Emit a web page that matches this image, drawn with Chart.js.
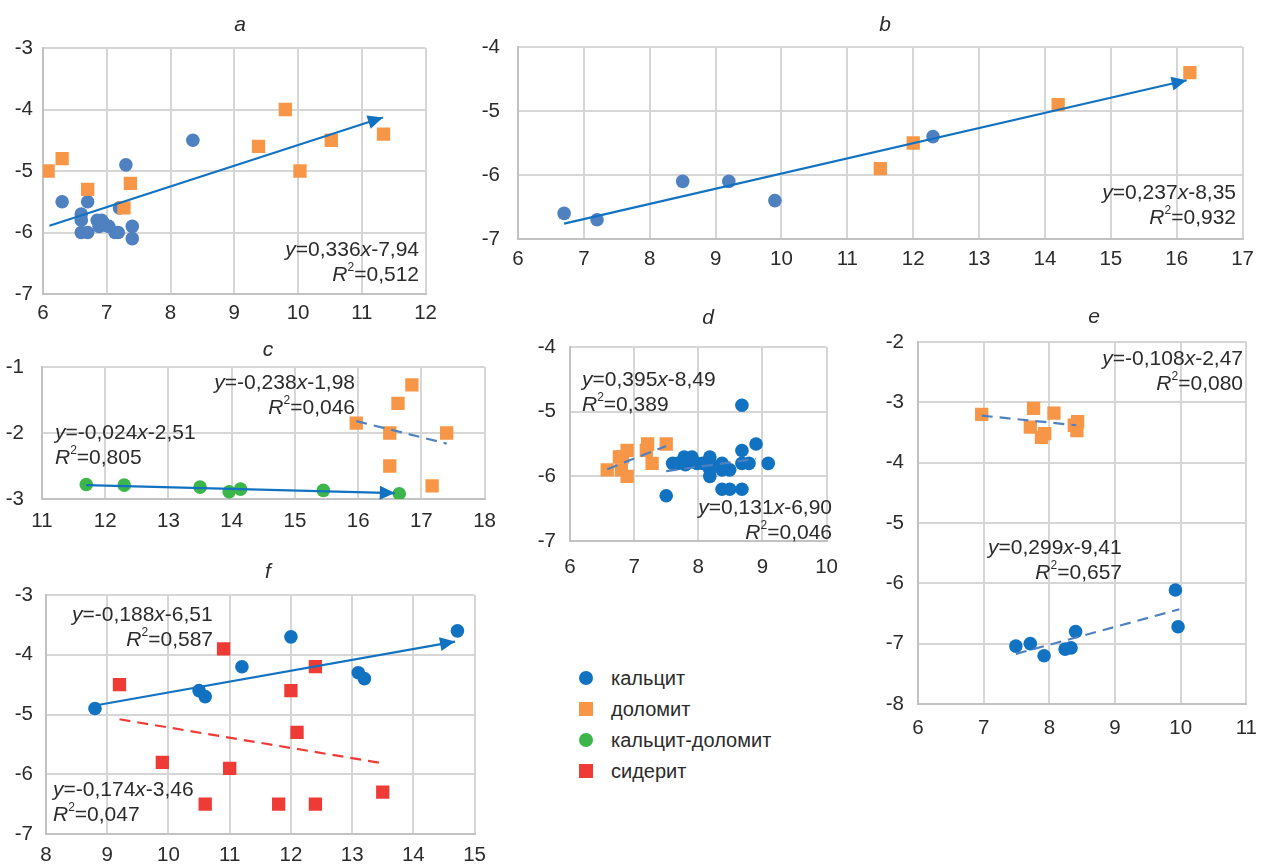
<!DOCTYPE html>
<html>
<head>
<meta charset="utf-8">
<title>Scatter panels a-f</title>
<script src="https://cdn.jsdelivr.net/npm/chart.js@4.4.1/dist/chart.umd.min.js"></script>
<style>
    body { margin: 0; width: 1269px; height: 864px; overflow: hidden; background: #fff; position: relative; }
    canvas { position: absolute; }
    #legend { position: absolute; left: 578px; top: 663px; font-family: "Liberation Sans", Arial, sans-serif; font-size: 20px; color: #2b2b2b; }
    #legend .item { height: 31px; line-height: 31px; position: relative; padding-left: 33px; }
    #legend .mk { position: absolute; left: 1px; top: 8px; width: 14px; height: 14px; }
</style>
</head>
<body>
<canvas id="chartA"></canvas>
<canvas id="chartB"></canvas>
<canvas id="chartC"></canvas>
<canvas id="chartD"></canvas>
<canvas id="chartE"></canvas>
<canvas id="chartF"></canvas>
<div id="legend">
    <div class="item"><span class="mk" style="background:#1172C2;border-radius:50%"></span>кальцит</div>
    <div class="item"><span class="mk" style="background:#F79646"></span>доломит</div>
    <div class="item"><span class="mk" style="background:#3CB54A;border-radius:50%"></span>кальцит-доломит</div>
    <div class="item"><span class="mk" style="background:#EE3B36"></span>сидерит</div>
</div>
<script>
// ---- data: [x, y] pairs ----
// panel a
const aCalcite = [[6.3,-5.5],[6.6,-5.7],[6.6,-5.8],[6.6,-6.0],[6.7,-5.5],[6.7,-6.0],[6.85,-5.8],[6.92,-5.8],
                  [6.88,-5.9],[6.95,-5.85],[7.03,-5.9],[7.13,-6.0],[7.18,-6.0],[7.3,-4.9],[7.2,-5.6],[7.4,-5.9],[7.4,-6.1],[8.35,-4.5]];
const aDolomite = [[6.08,-5.0],[6.3,-4.8],[6.7,-5.3],[7.37,-5.2],[7.27,-5.6],[9.38,-4.6],[9.8,-4.0],[10.03,-5.0],[10.52,-4.5],[11.34,-4.4]];
const aTrend = [[6.1,-5.89],[11.33,-4.13]];
const aEq = ['y=0,336x-7,94', 'R²=0,512'];

// panel b
const bCalcite = [[6.7,-6.6],[7.2,-6.7],[8.5,-6.1],[9.2,-6.1],[9.9,-6.4],[12.3,-5.4]];
const bDolomite = [[11.5,-5.9],[12.0,-5.5],[14.2,-4.9],[16.2,-4.4]];
const bTrend = [[6.7,-6.76],[16.15,-4.52]];
const bEq = ['y=0,237x-8,35', 'R²=0,932'];

// panel c
const cMixed = [[11.7,-2.78],[12.3,-2.79],[13.5,-2.82],[13.96,-2.89],[14.14,-2.85],[15.45,-2.87],[16.65,-2.92]];
const cDolomite = [[15.97,-1.85],[16.5,-2.0],[16.5,-2.5],[16.63,-1.55],[16.85,-1.27],[17.17,-2.8],[17.4,-2.0]];
const cTrendMixed = [[11.7,-2.79],[16.58,-2.91]];
const cTrendDolomite = [[15.97,-1.82],[17.4,-2.16]];
const cEqDolomite = ['y=-0,238x-1,98', 'R²=0,046'];
const cEqMixed = ['y=-0,024x-2,51', 'R²=0,805'];

// panel d
const dDolomite = [[6.58,-5.9],[6.77,-5.7],[6.8,-5.9],[6.82,-5.7],[6.89,-5.6],[6.89,-6.0],[7.19,-5.6],[7.21,-5.5],[7.28,-5.8],[7.5,-5.5]];
const dCalcite = [[7.5,-6.3],[7.6,-5.8],[7.68,-5.8],[7.78,-5.7],[7.8,-5.82],[7.9,-5.7],[7.98,-5.8],[8.07,-5.8],[8.18,-5.7],[8.18,-5.8],
                  [8.18,-5.9],[8.18,-6.0],[8.37,-5.8],[8.37,-5.9],[8.49,-5.9],[8.37,-6.2],[8.49,-6.2],[8.68,-4.9],[8.68,-5.6],
                  [8.68,-5.8],[8.68,-6.2],[8.79,-5.8],[8.9,-5.5],[9.09,-5.8]];
const dTrendDolomite = [[6.58,-5.89],[7.5,-5.53]];
const dTrendCalcite = [[7.5,-5.92],[8.9,-5.73]];
const dEqDolomite = ['y=0,395x-8,49', 'R²=0,389'];
const dEqCalcite = ['y=0,131x-6,90', 'R²=0,046'];

// panel e
const eDolomite = [[6.97,-3.2],[7.71,-3.41],[7.76,-3.1],[7.88,-3.58],[7.93,-3.52],[8.07,-3.18],[8.38,-3.38],[8.43,-3.32],[8.42,-3.47]];
const eCalcite = [[7.49,-7.04],[7.71,-7.0],[7.92,-7.2],[8.24,-7.09],[8.33,-7.07],[8.4,-6.8],[9.92,-6.11],[9.96,-6.72]];
const eTrendDolomite = [[6.97,-3.22],[8.41,-3.38]];
const eTrendCalcite = [[7.49,-7.17],[9.98,-6.43]];
const eEqDolomite = ['y=-0,108x-2,47', 'R²=0,080'];
const eEqCalcite = ['y=0,299x-9,41', 'R²=0,657'];

// panel f
const fCalcite = [[8.8,-4.9],[10.5,-4.6],[10.6,-4.7],[11.2,-4.2],[12.0,-3.7],[13.1,-4.3],[13.2,-4.4],[14.72,-3.6]];
const fSiderite = [[9.2,-4.5],[9.9,-5.8],[10.6,-6.5],[10.9,-3.9],[11.0,-5.9],[11.8,-6.5],[12.0,-4.6],[12.1,-5.3],[12.4,-4.2],[12.4,-6.5],[13.5,-6.3]];
const fTrendCalcite = [[8.8,-4.85],[14.68,-3.78]];
const fTrendSiderite = [[9.2,-5.08],[13.52,-5.82]];
const fEqCalcite = ['y=-0,188x-6,51', 'R²=0,587'];
const fEqSiderite = ['y=-0,174x-3,46', 'R²=0,047'];

// axis ranges (ticks every 1)
const aXRange = [6, 12],  aYRange = [-7, -3];
const bXRange = [6, 17],  bYRange = [-7, -4];
const cXRange = [11, 18], cYRange = [-3, -1];
const dXRange = [6, 10],  dYRange = [-7, -4];
const eXRange = [6, 11],  eYRange = [-8, -2];
const fXRange = [8, 15],  fYRange = [-7, -3];

// ---- styling ----
const FONT = '"Liberation Sans", Arial, sans-serif';
const TEXT = '#2b2b2b';
const BLUE_SOFT = '#4F81C0';
const BLUE = '#1172C2';
const ORANGE = '#F79646';
const GREEN = '#3CB54A';
const RED = '#EE3B36';
const PAD_L = 42, PAD_T = 40, PAD_R = 12, PAD_B = 40;

const toXY = pts => pts.map(p => ({ x: p[0], y: p[1] }));

function circles(pts, color) {
    return { type: 'scatter', data: toXY(pts), pointStyle: 'circle', pointRadius: 6.8,
             backgroundColor: color, borderWidth: 0 };
}
function squares(pts, color) {
    return { type: 'scatter', data: toXY(pts), pointStyle: 'rect', pointRadius: 9.4,
             backgroundColor: color, borderWidth: 0 };
}
function trend(pts, color, dashed, arrow) {
    return { type: 'line', data: toXY(pts), showLine: true, pointRadius: 0, borderColor: color,
             borderWidth: 2.2, borderDash: dashed ? [11, 7] : [], fill: false, arrow: !!arrow, arrowColor: color };
}

// draw an equation line: y, x and R in italics, ² as a small raised 2
function drawEq(ctx, text, x, y, align) {
    const parts = [];
    for (const ch of text) {
        let f = '21px ' + FONT, dy = 0, t = ch;
        if (ch === '²') { t = '2'; f = '12px ' + FONT; dy = -7; }
        else if (ch === 'y' || ch === 'x' || ch === 'R') { f = 'italic 21px ' + FONT; }
        const last = parts[parts.length - 1];
        if (last && last.f === f && last.dy === dy) last.t += t;
        else parts.push({ t: t, f: f, dy: dy });
    }
    let total = 0;
    parts.forEach(p => { ctx.font = p.f; p.w = ctx.measureText(p.t).width; total += p.w; });
    let cx = align === 'right' ? x - total : x;
    ctx.textAlign = 'left';
    ctx.textBaseline = 'middle';
    ctx.fillStyle = TEXT;
    parts.forEach(p => { ctx.font = p.f; ctx.fillText(p.t, cx, y + p.dy); cx += p.w; });
}

// titles, equations and arrowheads
const panelDecor = {
    id: 'panelDecor',
    afterDatasetsDraw(chart) {
        const ctx = chart.ctx;
        const cfg = chart.options.plugins.panelDecor;
        const ox = cfg.box[0] - PAD_L, oy = cfg.box[1] - PAD_T;
        ctx.save();
        // arrowheads
        chart.data.datasets.forEach((ds, i) => {
            if (!ds.arrow) return;
            const pts = chart.getDatasetMeta(i).data;
            const p1 = pts[pts.length - 2], p2 = pts[pts.length - 1];
            const ang = Math.atan2(p2.y - p1.y, p2.x - p1.x);
            const len = 15, half = 7;
            ctx.fillStyle = ds.arrowColor;
            ctx.beginPath();
            ctx.moveTo(p2.x, p2.y);
            ctx.lineTo(p2.x - len * Math.cos(ang) + half * Math.sin(ang), p2.y - len * Math.sin(ang) - half * Math.cos(ang));
            ctx.lineTo(p2.x - len * Math.cos(ang) - half * Math.sin(ang), p2.y - len * Math.sin(ang) + half * Math.cos(ang));
            ctx.closePath();
            ctx.fill();
        });
        // panel letter
        ctx.font = 'italic 21px ' + FONT;
        ctx.fillStyle = TEXT;
        ctx.textAlign = 'center';
        ctx.textBaseline = 'middle';
        ctx.fillText(cfg.title, cfg.titlePos[0] - ox, cfg.titlePos[1] - oy);
        // regression equations
        cfg.notes.forEach(n => drawEq(ctx, n.text, n.x - ox, n.y - oy, n.align));
        ctx.restore();
    }
};

function axis(range, pad, isX) {
    return {
        type: 'linear', min: range[0], max: range[1],
        afterFit(scale) { if (isX) scale.height = PAD_B; else scale.width = PAD_L; },
        ticks: { stepSize: 1, color: TEXT, padding: pad, font: { family: FONT, size: 20.5 } },
        grid: { color: '#D6D6D6', lineWidth: 2, drawTicks: false },
        border: { color: '#C2C2C2', width: 2 }
    };
}

function makePanel(id, p) {
    const canvas = document.getElementById(id);
    const w = (p.box[2] - p.box[0]) + PAD_L + PAD_R;
    const h = (p.box[3] - p.box[1]) + PAD_T + PAD_B;
    canvas.width = w;
    canvas.height = h;
    canvas.style.left = (p.box[0] - PAD_L) + 'px';
    canvas.style.top = (p.box[1] - PAD_T) + 'px';
    canvas.style.width = w + 'px';
    canvas.style.height = h + 'px';
    new Chart(canvas.getContext('2d'), {
        type: 'scatter',
        data: { datasets: p.datasets },
        options: {
            responsive: false,
            animation: false,
            layout: { padding: { top: PAD_T, right: PAD_R, left: 0, bottom: 0 } },
            plugins: {
                legend: { display: false },
                tooltip: { enabled: false },
                panelDecor: { box: p.box, title: p.title, titlePos: p.titlePos, notes: p.notes }
            },
            scales: { x: axis(p.xRange, p.xPad, true), y: axis(p.yRange, p.yPad, false) }
        },
        plugins: [panelDecor]
    });
}

// helper to place a two-line equation block
const eq = (lines, x, y, align, x2, align2) => [
    { text: lines[0], x: x, y: y, align: align },
    { text: lines[1], x: x2 !== undefined ? x2 : x, y: y + 25, align: align2 || align }
];

makePanel('chartA', {
    box: [43, 48, 432, 294], title: 'a', titlePos: [240, 25], xRange: aXRange, yRange: aYRange, xPad: 7, yPad: 10,
    datasets: [trend(aTrend, BLUE, false, true), squares(aDolomite, ORANGE), circles(aCalcite, BLUE_SOFT)],
    notes: eq(aEq, 419, 250, 'right')
});
makePanel('chartB', {
    box: [518, 47, 1250, 239], title: 'b', titlePos: [885, 25], xRange: bXRange, yRange: bYRange, xPad: 8, yPad: 18,
    datasets: [trend(bTrend, BLUE, false, true), squares(bDolomite, ORANGE), circles(bCalcite, BLUE_SOFT)],
    notes: eq(bEq, 1236, 193, 'right')
});
makePanel('chartC', {
    box: [42, 367, 494, 499], title: 'c', titlePos: [268, 350], xRange: cXRange, yRange: cYRange, xPad: 10, yPad: 18,
    datasets: [trend(cTrendMixed, BLUE, false, true), trend(cTrendDolomite, BLUE_SOFT, true),
               squares(cDolomite, ORANGE), circles(cMixed, GREEN)],
    notes: eq(cEqDolomite, 355, 383, 'right').concat(eq(cEqMixed, 55, 433, 'left'))
});
makePanel('chartD', {
    box: [570, 347, 840, 541], title: 'd', titlePos: [708, 318], xRange: dXRange, yRange: dYRange, xPad: 14, yPad: 14,
    datasets: [trend(dTrendDolomite, BLUE_SOFT, true), trend(dTrendCalcite, BLUE_SOFT, true),
               circles(dCalcite, BLUE), squares(dDolomite, ORANGE)],
    notes: eq(dEqDolomite, 582, 380, 'left').concat(eq(dEqCalcite, 832, 508, 'right'))
});
makePanel('chartE', {
    box: [918, 342, 1257, 704], title: 'e', titlePos: [1094, 317], xRange: eXRange, yRange: eYRange, xPad: 12, yPad: 14,
    datasets: [trend(eTrendDolomite, BLUE_SOFT, true), trend(eTrendCalcite, BLUE_SOFT, true),
               squares(eDolomite, ORANGE), circles(eCalcite, BLUE)],
    notes: eq(eEqDolomite, 1243, 359, 'right').concat(eq(eEqCalcite, 988, 548, 'left', 1122, 'right'))
});
makePanel('chartF', {
    box: [46, 595, 483, 834], title: 'f', titlePos: [268, 572], xRange: fXRange, yRange: fYRange, xPad: 9, yPad: 13,
    datasets: [trend(fTrendCalcite, BLUE, false, true), trend(fTrendSiderite, RED, true),
               circles(fCalcite, BLUE), squares(fSiderite, RED)],
    notes: eq(fEqCalcite, 72, 615, 'left', 213, 'right').concat(eq(fEqSiderite, 53, 790, 'left'))
});
</script>
</body>
</html>
